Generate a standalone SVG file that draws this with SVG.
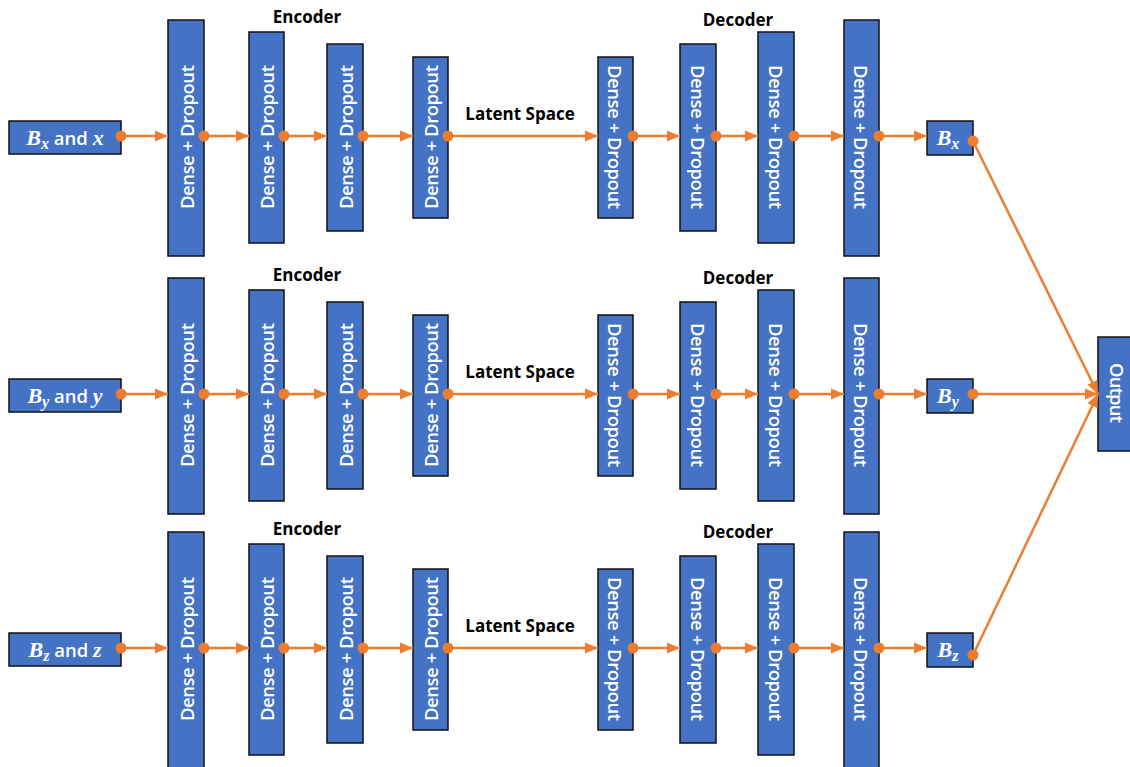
<svg xmlns="http://www.w3.org/2000/svg" width="1130" height="767" viewBox="0 0 1130 767">
  <style>
    .box { fill: #4472C4; stroke: #111; stroke-width: 1.5; }
    .lbl { fill: #fff; font-family: "Open Sans", "Liberation Sans", sans-serif; font-weight: 600; font-size: 18.5px; text-anchor: middle; dominant-baseline: central; }
    .math { font-family: "Liberation Serif", serif; font-style: italic; font-weight: 700; }
    .head { fill: #000; font-family: "Open Sans", "Liberation Sans", sans-serif; font-weight: 700; font-size: 17px; text-anchor: middle; }
    .wire { stroke: #ED7D31; stroke-width: 2.5; fill: none; marker-start: url(#dot); marker-end: url(#arrow); }
  </style>
  <defs>
    <marker id="arrow" markerUnits="userSpaceOnUse" markerWidth="14" markerHeight="14" viewBox="0 0 14 14" refX="13" refY="7" orient="auto">
      <path d="M0,1.5 L13,7 L0,12.5 Z" fill="#ED7D31"/>
    </marker>
    <marker id="dot" markerUnits="userSpaceOnUse" markerWidth="13" markerHeight="13" viewBox="0 0 13 13" refX="6.5" refY="6.5" orient="auto">
      <circle cx="6.5" cy="6.5" r="5.5" fill="#ED7D31"/>
    </marker>
  </defs>

  <rect width="1130" height="767" fill="#fff"/>

  <!-- headings -->
  <g id="headings">
    <text class="head" x="307" y="23">Encoder</text>
    <text class="head" x="738" y="26">Decoder</text>
    <text class="head" x="520" y="120">Latent Space</text>
    <text class="head" x="307" y="281">Encoder</text>
    <text class="head" x="738" y="284">Decoder</text>
    <text class="head" x="520" y="378">Latent Space</text>
    <text class="head" x="307" y="535">Encoder</text>
    <text class="head" x="738" y="538">Decoder</text>
    <text class="head" x="520" y="632">Latent Space</text>
  </g>

  <!-- row x -->
  <g id="in-x"><rect class="box" x="9" y="121" width="112" height="33"/>
    <text class="lbl" x="65" y="137"><tspan class="math" font-size="22">B</tspan><tspan class="math" font-size="16" dy="6">x</tspan><tspan dy="-6"> and </tspan><tspan class="math" font-size="22">x</tspan></text></g>
  <g id="enc-x-1"><rect class="box" x="168" y="20" width="36" height="236"/><text class="lbl" transform="translate(186,137) rotate(-90)" textLength="144">Dense + Dropout</text></g>
  <g id="enc-x-2"><rect class="box" x="249" y="32" width="35" height="211"/><text class="lbl" transform="translate(266.5,137) rotate(-90)" textLength="144">Dense + Dropout</text></g>
  <g id="enc-x-3"><rect class="box" x="327" y="44" width="36" height="187"/><text class="lbl" transform="translate(345,137) rotate(-90)" textLength="144">Dense + Dropout</text></g>
  <g id="enc-x-4"><rect class="box" x="413" y="57" width="35" height="161"/><text class="lbl" transform="translate(430.5,137) rotate(-90)" textLength="144">Dense + Dropout</text></g>
  <g id="dec-x-1"><rect class="box" x="598" y="57" width="35" height="161"/><text class="lbl" transform="translate(615.5,137) rotate(90)" textLength="144">Dense + Dropout</text></g>
  <g id="dec-x-2"><rect class="box" x="680" y="44" width="36" height="187"/><text class="lbl" transform="translate(698,137) rotate(90)" textLength="144">Dense + Dropout</text></g>
  <g id="dec-x-3"><rect class="box" x="758" y="32" width="36" height="211"/><text class="lbl" transform="translate(776,137) rotate(90)" textLength="144">Dense + Dropout</text></g>
  <g id="dec-x-4"><rect class="box" x="844" y="20" width="35" height="236"/><text class="lbl" transform="translate(861.5,137) rotate(90)" textLength="144">Dense + Dropout</text></g>
  <g id="out-x"><rect class="box" x="927" y="121" width="46" height="34"/>
    <text class="lbl" x="948" y="137"><tspan class="math" font-size="22">B</tspan><tspan class="math" font-size="16" dy="6">x</tspan></text></g>

  <!-- row y -->
  <g id="in-y"><rect class="box" x="9" y="379" width="112" height="33"/>
    <text class="lbl" x="65" y="395"><tspan class="math" font-size="22">B</tspan><tspan class="math" font-size="16" dy="6">y</tspan><tspan dy="-6"> and </tspan><tspan class="math" font-size="22">y</tspan></text></g>
  <g id="enc-y-1"><rect class="box" x="168" y="278" width="36" height="236"/><text class="lbl" transform="translate(186,395) rotate(-90)" textLength="144">Dense + Dropout</text></g>
  <g id="enc-y-2"><rect class="box" x="249" y="290" width="35" height="211"/><text class="lbl" transform="translate(266.5,395) rotate(-90)" textLength="144">Dense + Dropout</text></g>
  <g id="enc-y-3"><rect class="box" x="327" y="302" width="36" height="187"/><text class="lbl" transform="translate(345,395) rotate(-90)" textLength="144">Dense + Dropout</text></g>
  <g id="enc-y-4"><rect class="box" x="413" y="315" width="35" height="161"/><text class="lbl" transform="translate(430.5,395) rotate(-90)" textLength="144">Dense + Dropout</text></g>
  <g id="dec-y-1"><rect class="box" x="598" y="315" width="35" height="161"/><text class="lbl" transform="translate(615.5,395) rotate(90)" textLength="144">Dense + Dropout</text></g>
  <g id="dec-y-2"><rect class="box" x="680" y="302" width="36" height="187"/><text class="lbl" transform="translate(698,395) rotate(90)" textLength="144">Dense + Dropout</text></g>
  <g id="dec-y-3"><rect class="box" x="758" y="290" width="36" height="211"/><text class="lbl" transform="translate(776,395) rotate(90)" textLength="144">Dense + Dropout</text></g>
  <g id="dec-y-4"><rect class="box" x="844" y="278" width="35" height="236"/><text class="lbl" transform="translate(861.5,395) rotate(90)" textLength="144">Dense + Dropout</text></g>
  <g id="out-y"><rect class="box" x="927" y="379" width="46" height="34"/>
    <text class="lbl" x="948" y="395"><tspan class="math" font-size="22">B</tspan><tspan class="math" font-size="16" dy="6">y</tspan></text></g>

  <!-- row z -->
  <g id="in-z"><rect class="box" x="9" y="633" width="112" height="33"/>
    <text class="lbl" x="65" y="649"><tspan class="math" font-size="22">B</tspan><tspan class="math" font-size="16" dy="6">z</tspan><tspan dy="-6"> and </tspan><tspan class="math" font-size="22">z</tspan></text></g>
  <g id="enc-z-1"><rect class="box" x="168" y="532" width="36" height="240"/><text class="lbl" transform="translate(186,649) rotate(-90)" textLength="144">Dense + Dropout</text></g>
  <g id="enc-z-2"><rect class="box" x="249" y="544" width="35" height="211"/><text class="lbl" transform="translate(266.5,649) rotate(-90)" textLength="144">Dense + Dropout</text></g>
  <g id="enc-z-3"><rect class="box" x="327" y="556" width="36" height="187"/><text class="lbl" transform="translate(345,649) rotate(-90)" textLength="144">Dense + Dropout</text></g>
  <g id="enc-z-4"><rect class="box" x="413" y="569" width="35" height="161"/><text class="lbl" transform="translate(430.5,649) rotate(-90)" textLength="144">Dense + Dropout</text></g>
  <g id="dec-z-1"><rect class="box" x="598" y="569" width="35" height="161"/><text class="lbl" transform="translate(615.5,649) rotate(90)" textLength="144">Dense + Dropout</text></g>
  <g id="dec-z-2"><rect class="box" x="680" y="556" width="36" height="187"/><text class="lbl" transform="translate(698,649) rotate(90)" textLength="144">Dense + Dropout</text></g>
  <g id="dec-z-3"><rect class="box" x="758" y="544" width="36" height="211"/><text class="lbl" transform="translate(776,649) rotate(90)" textLength="144">Dense + Dropout</text></g>
  <g id="dec-z-4"><rect class="box" x="844" y="532" width="35" height="240"/><text class="lbl" transform="translate(861.5,649) rotate(90)" textLength="144">Dense + Dropout</text></g>
  <g id="out-z"><rect class="box" x="927" y="633" width="46" height="34"/>
    <text class="lbl" x="948" y="649"><tspan class="math" font-size="22">B</tspan><tspan class="math" font-size="16" dy="6">z</tspan></text></g>

  <!-- merged output -->
  <g id="output"><rect class="box" x="1098" y="337" width="40" height="114"/>
    <text class="lbl" transform="translate(1117,393) rotate(90)" textLength="60">Output</text></g>

  <!-- connectors, drawn last so the start dots sit on the box edges -->
  <g id="connectors">
    <path class="wire" d="M121,136 H168"/>
    <path class="wire" d="M204,136 H249"/>
    <path class="wire" d="M284,136 H327"/>
    <path class="wire" d="M363,136 H413"/>
    <path class="wire" d="M448,136 H598"/>
    <path class="wire" d="M633,136 H680"/>
    <path class="wire" d="M716,136 H758"/>
    <path class="wire" d="M794,136 H844"/>
    <path class="wire" d="M879,136 H927"/>

    <path class="wire" d="M121,394 H168"/>
    <path class="wire" d="M204,394 H249"/>
    <path class="wire" d="M284,394 H327"/>
    <path class="wire" d="M363,394 H413"/>
    <path class="wire" d="M448,394 H598"/>
    <path class="wire" d="M633,394 H680"/>
    <path class="wire" d="M716,394 H758"/>
    <path class="wire" d="M794,394 H844"/>
    <path class="wire" d="M879,394 H927"/>

    <path class="wire" d="M121,648 H168"/>
    <path class="wire" d="M204,648 H249"/>
    <path class="wire" d="M284,648 H327"/>
    <path class="wire" d="M363,648 H413"/>
    <path class="wire" d="M448,648 H598"/>
    <path class="wire" d="M633,648 H680"/>
    <path class="wire" d="M716,648 H758"/>
    <path class="wire" d="M794,648 H844"/>
    <path class="wire" d="M879,648 H927"/>

    <path class="wire" d="M973,141 L1098,394"/>
    <path class="wire" d="M973,394 L1098,394"/>
    <path class="wire" d="M973,655 L1098,394"/>
  </g>
</svg>
